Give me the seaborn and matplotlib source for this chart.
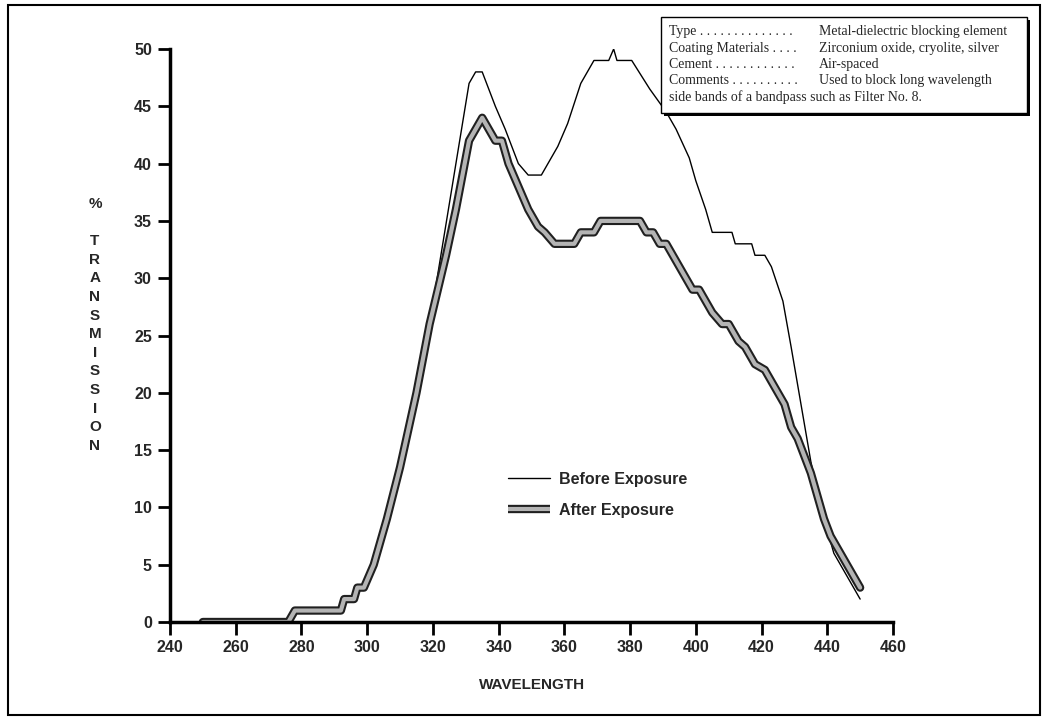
import matplotlib
matplotlib.use("Agg")
import matplotlib.pyplot as plt
import matplotlib.patheffects as pe
from matplotlib.lines import Line2D
from matplotlib.patches import Rectangle
import seaborn as sns

# values
after_wl = [250, 276, 278, 292, 293, 296, 297, 299, 302, 306, 310, 315, 319, 324, 327,
            331, 335, 339, 341, 343, 346, 349, 352, 354, 357, 363, 365, 369, 371, 383,
            385, 387, 389, 391, 395, 399, 401, 405, 408, 410, 413, 415, 418, 421, 424,
            427, 429, 431, 433, 435, 437, 439, 441, 445, 450]
after_pct = [0, 0, 1, 1, 2, 2, 3, 3, 5, 9, 13.5, 20, 26, 32, 36,
             42, 44, 42, 42, 40, 38, 36, 34.5, 34, 33, 33, 34, 34, 35, 35,
             34, 34, 33, 33, 31, 29, 29, 27, 26, 26, 24.5, 24, 22.5, 22, 20.5,
             19, 17, 16, 14.5, 13, 11, 9, 7.5, 5.5, 3]

before_wl = [250, 276, 278, 292, 293, 296, 297, 299, 302, 306, 310, 315, 319, 323, 327,
             331, 333, 335, 339, 342, 344, 346, 349, 353, 358, 361, 365, 369, 373.5,
             375, 376, 380.5, 386, 391, 394, 398, 400, 403, 405, 411, 412, 417, 418,
             421, 423, 426.5, 429, 432, 435, 438, 442, 450]
before_pct = [0, 0, 1, 1, 2, 2, 3, 3, 5, 9, 13.5, 20, 26, 33, 40,
              47, 48, 48, 45, 43, 41.5, 40, 39, 39, 41.5, 43.5, 47, 49, 49,
              50, 49, 49, 46.5, 44.5, 43, 40.5, 38.5, 36, 34, 34, 33, 33, 32,
              32, 31, 28, 24, 19, 14, 10, 6, 2]

x_ticks = list(range(240, 461, 20))
y_ticks = list(range(0, 51, 5))
ylabel_letters = ["%", "", "T", "R", "A", "N", "S", "M", "I", "S", "S", "I", "O", "N"]

info_keys = ["Type . . . . . . . . . . . . . .", "Coating Materials . . . .",
             "Cement . . . . . . . . . . . .", "Comments . . . . . . . . . ."]
info_vals = ["Metal-dielectric blocking element", "Zirconium oxide, cryolite, silver",
             "Air-spaced", "Used to block long wavelength"]
info_tail = "side bands of a bandpass such as Filter No. 8."

sns.set_theme(style="white")
plt.rcParams["font.family"] = ["Liberation Sans", "DejaVu Sans"]

W, H = 1042, 720
fig = plt.figure(figsize=(W / 100, H / 100), dpi=100)
ax = fig.add_axes([170 / W, 1 - 622 / H, 723 / W, 573 / H])

after_fx = [pe.Stroke(linewidth=6, foreground="#202020"), pe.Normal()]

sns.lineplot(x=before_wl, y=before_pct, ax=ax, color="black", linewidth=1.0,
             sort=False, estimator=None)
sns.lineplot(x=after_wl, y=after_pct, ax=ax, color="#b4b4b4", linewidth=3.0,
             sort=False, estimator=None, path_effects=after_fx)

ax.set_xlim(240, 460)
ax.set_ylim(0, 50)
ax.set_xticks(x_ticks)
ax.set_yticks(y_ticks)
for s in ["top", "right"]:
    ax.spines[s].set_visible(False)
for s in ["left", "bottom"]:
    ax.spines[s].set_color("black")
    ax.spines[s].set_linewidth(2.5)
ax.tick_params(axis="both", direction="out", length=9, width=2, color="black",
               labelsize=11.5, pad=4, left=True, bottom=True)
for lab in ax.get_xticklabels() + ax.get_yticklabels():
    lab.set_fontweight("bold")
ax.set_xlabel("")
ax.set_ylabel("")

# stacked vertical axis title
for i, ch in enumerate(ylabel_letters):
    fig.text(95 / W, 1 - (204 + i * 18.6) / H, ch, ha="center", va="center",
             fontsize=11, fontweight="bold")
fig.text(532 / W, 1 - 685 / H, "WAVELENGTH", ha="center", va="center",
         fontsize=11, fontweight="bold")

handles = [Line2D([], [], color="black", linewidth=1.0),
           Line2D([], [], color="#b4b4b4", linewidth=3.0, solid_capstyle="butt",
                  path_effects=[pe.Stroke(linewidth=6, foreground="#202020",
                                          capstyle="butt"), pe.Normal()])]
leg = ax.legend(handles, ["Before Exposure", "After Exposure"], loc="upper left",
                bbox_to_anchor=((508 - 170) / 723, (622 - 472) / 573), frameon=False,
                borderpad=0, borderaxespad=0, handlelength=2.6, handletextpad=0.6,
                labelspacing=1.0, fontsize=11.5)
for t in leg.get_texts():
    t.set_fontweight("bold")

# info box in the upper right
fig.patches.append(Rectangle((664 / W, 1 - 116 / H), 366 / W, 96 / H,
                             transform=fig.transFigure, facecolor="black",
                             edgecolor="none", zorder=4))
fig.patches.append(Rectangle((661 / W, 1 - 113 / H), 366 / W, 96 / H,
                             transform=fig.transFigure, facecolor="white",
                             edgecolor="black", linewidth=1.0, zorder=5))
serif = ["Liberation Serif", "DejaVu Serif"]
for i, (k, v) in enumerate(zip(info_keys, info_vals)):
    y = 1 - (32 + i * 16.2) / H
    fig.text(669 / W, y, k, ha="left", va="center", fontsize=10, family=serif, zorder=6)
    fig.text(819 / W, y, v, ha="left", va="center", fontsize=10, family=serif, zorder=6)
fig.text(669 / W, 1 - (32 + 4 * 16.2) / H, info_tail, ha="left", va="center",
         fontsize=10, family=serif, zorder=6)

# outer page frame
fig.patches.append(Rectangle((8 / W, 1 - 715 / H), 1032 / W, 710 / H,
                             transform=fig.transFigure, facecolor="none",
                             edgecolor="black", linewidth=1.5))

fig.savefig("out.png", dpi=100)
